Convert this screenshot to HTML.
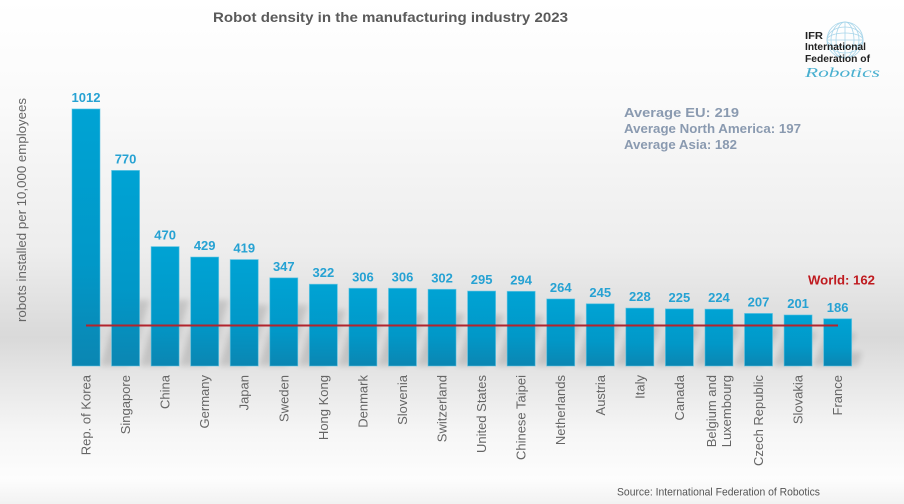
<!DOCTYPE html>
<html>
<head>
<meta charset="utf-8">
<style>
  html, body { margin: 0; padding: 0; }
  body { width: 904px; height: 504px; overflow: hidden; background: #fff; }
  svg { display: block; font-family: "Liberation Sans", Arial, sans-serif; }
</style>
</head>
<body>
<svg width="904" height="504" viewBox="0 0 904 504" xmlns="http://www.w3.org/2000/svg">
  <defs>
    <linearGradient id="bg" x1="0" y1="0" x2="0" y2="1">
      <stop offset="0" stop-color="#ffffff"/>
      <stop offset="0.2" stop-color="#fafafa"/>
      <stop offset="0.5" stop-color="#ededed"/>
      <stop offset="0.67" stop-color="#d9d9d9"/>
      <stop offset="0.73" stop-color="#e3e3e3"/>
      <stop offset="0.86" stop-color="#f6f6f6"/>
      <stop offset="0.95" stop-color="#fdfdfd"/>
      <stop offset="1" stop-color="#f2f2f2"/>
    </linearGradient>
    <linearGradient id="bar" x1="0" y1="0" x2="0" y2="1">
      <stop offset="0" stop-color="#00a3d4"/>
      <stop offset="0.6" stop-color="#0198c8"/>
      <stop offset="1" stop-color="#0b86b2"/>
    </linearGradient>
    <filter id="blur" x="-50%" y="-50%" width="200%" height="200%">
      <feGaussianBlur stdDeviation="3"/>
    </filter>
  </defs>

  <rect x="0" y="0" width="904" height="504" fill="url(#bg)"/>

  <!-- Title -->
  <text x="213" y="22" font-size="14" font-weight="bold" fill="#5a5a5a" textLength="355" lengthAdjust="spacingAndGlyphs">Robot density in the manufacturing industry 2023</text>

  <!-- IFR logo -->
  <g fill="none" stroke="#a9d6ea" stroke-width="0.8">
    <circle cx="845" cy="40" r="18"/>
    <ellipse cx="845" cy="40" rx="9" ry="18"/>
    <ellipse cx="845" cy="40" rx="14" ry="18"/>
    <line x1="845" y1="22" x2="845" y2="58"/>
    <line x1="827" y1="40" x2="863" y2="40"/>
    <ellipse cx="845" cy="40" rx="18" ry="7"/>
    <ellipse cx="845" cy="40" rx="18" ry="13"/>
  </g>
  <g font-size="10.5" font-weight="bold" fill="#222">
    <text x="805" y="39" textLength="18" lengthAdjust="spacingAndGlyphs">IFR</text>
    <text x="805" y="50" textLength="61" lengthAdjust="spacingAndGlyphs">International</text>
    <text x="805" y="62" textLength="65" lengthAdjust="spacingAndGlyphs">Federation of</text>
  </g>
  <text x="805" y="77" font-family="Liberation Serif, serif" font-style="italic" font-size="14" fill="#4ab0d0" textLength="75" lengthAdjust="spacingAndGlyphs">Robotics</text>

  <!-- Averages -->
  <g font-size="13" font-weight="bold" fill="#8a9ab0">
    <text x="624" y="117" textLength="115" lengthAdjust="spacingAndGlyphs">Average EU: 219</text>
    <text x="624" y="133" textLength="177" lengthAdjust="spacingAndGlyphs">Average North America: 197</text>
    <text x="624" y="149" textLength="113" lengthAdjust="spacingAndGlyphs">Average Asia: 182</text>
  </g>

  <!-- Y axis title -->
  <text transform="translate(26,210) rotate(-90)" text-anchor="middle" font-size="13" fill="#666" textLength="224" lengthAdjust="spacingAndGlyphs">robots installed per 10,000 employees</text>

  <!-- Shadows -->
  <g fill="#000" opacity="0.12" filter="url(#blur)">
    <polygon points="100,366 128,366 150,300 122,300"/>
    <polygon points="139.56,366 167.56,366 189.56,300 161.56,300"/>
    <polygon points="179.12,366 207.12,366 229.12,300 201.12,300"/>
    <polygon points="218.68,366 246.68,366 268.68,305 240.68,305"/>
    <polygon points="258.24,366 286.24,366 308.24,305 280.24,305"/>
    <polygon points="297.8,366 325.8,366 345.8,310 317.8,310"/>
    <polygon points="337.36,366 365.36,366 385.36,312 357.36,312"/>
    <polygon points="376.92,366 404.92,366 424.92,314 396.92,314"/>
    <polygon points="416.48,366 444.48,366 464.48,314 436.48,314"/>
    <polygon points="456.04,366 484.04,366 504.04,315 476.04,315"/>
    <polygon points="495.6,366 523.6,366 543.6,316 515.6,316"/>
    <polygon points="535.16,366 563.16,366 583.16,316 555.16,316"/>
    <polygon points="574.72,366 602.72,366 620.72,322 592.72,322"/>
    <polygon points="614.28,366 642.28,366 660.28,326 632.28,326"/>
    <polygon points="653.84,366 681.84,366 699.84,328 671.84,328"/>
    <polygon points="693.4,366 721.4,366 739.4,328 711.4,328"/>
    <polygon points="732.96,366 760.96,366 778.96,328 750.96,328"/>
    <polygon points="772.52,366 800.52,366 816.52,332 788.52,332"/>
    <polygon points="812.08,366 840.08,366 856.08,333 828.08,333"/>
    <polygon points="826,366 858,366 862,352 830,352"/>
  </g>

  <!-- Bars -->
  <g fill="url(#bar)" stroke="#5cc3e3" stroke-width="0.8" stroke-opacity="0.7">
    <rect x="72" y="108.95" width="28" height="257.05"/>
    <rect x="111.56" y="170.42" width="28" height="195.58"/>
    <rect x="151.12" y="246.62" width="28" height="119.38"/>
    <rect x="190.68" y="257.03" width="28" height="108.97"/>
    <rect x="230.24" y="259.57" width="28" height="106.43"/>
    <rect x="269.8" y="277.86" width="28" height="88.14"/>
    <rect x="309.36" y="284.21" width="28" height="81.79"/>
    <rect x="348.92" y="288.28" width="28" height="77.72"/>
    <rect x="388.48" y="288.28" width="28" height="77.72"/>
    <rect x="428.04" y="289.29" width="28" height="76.71"/>
    <rect x="467.6" y="291.07" width="28" height="74.93"/>
    <rect x="507.16" y="291.32" width="28" height="74.68"/>
    <rect x="546.72" y="298.94" width="28" height="67.06"/>
    <rect x="586.28" y="303.77" width="28" height="62.23"/>
    <rect x="625.84" y="308.09" width="28" height="57.91"/>
    <rect x="665.4" y="308.85" width="28" height="57.15"/>
    <rect x="704.96" y="309.1" width="28" height="56.9"/>
    <rect x="744.52" y="313.42" width="28" height="52.58"/>
    <rect x="784.08" y="314.95" width="28" height="51.05"/>
    <rect x="823.64" y="318.76" width="28" height="47.24"/>
  </g>

  <!-- World line -->
  <line x1="86" y1="325.5" x2="838" y2="325.5" stroke="#b3242c" stroke-width="2"/>
  <text x="808" y="284.7" font-size="13" font-weight="bold" fill="#bf1a1f" textLength="67" lengthAdjust="spacingAndGlyphs">World: 162</text>

  <!-- Value labels -->
  <g font-size="13" font-weight="bold" fill="#26a2d3" text-anchor="middle">
    <text x="86" y="102">1012</text>
    <text x="125.56" y="163.4">770</text>
    <text x="165.12" y="239.6">470</text>
    <text x="204.68" y="250">429</text>
    <text x="244.24" y="252.6">419</text>
    <text x="283.8" y="270.9">347</text>
    <text x="323.36" y="277.2">322</text>
    <text x="362.92" y="281.3">306</text>
    <text x="402.48" y="281.3">306</text>
    <text x="442.04" y="282.3">302</text>
    <text x="481.6" y="284.1">295</text>
    <text x="521.16" y="284.3">294</text>
    <text x="560.72" y="291.9">264</text>
    <text x="600.28" y="296.8">245</text>
    <text x="639.84" y="301.1">228</text>
    <text x="679.4" y="301.9">225</text>
    <text x="718.96" y="302.1">224</text>
    <text x="758.52" y="306.4">207</text>
    <text x="798.08" y="307.9">201</text>
    <text x="837.64" y="311.8">186</text>
  </g>

  <!-- Category labels -->
  <g font-size="13" fill="#666" text-anchor="end">
    <text transform="translate(90.5,375) rotate(-90)">Rep. of Korea</text>
    <text transform="translate(130.06,375) rotate(-90)">Singapore</text>
    <text transform="translate(169.62,375) rotate(-90)">China</text>
    <text transform="translate(209.18,375) rotate(-90)">Germany</text>
    <text transform="translate(248.74,375) rotate(-90)">Japan</text>
    <text transform="translate(288.3,375) rotate(-90)">Sweden</text>
    <text transform="translate(327.86,375) rotate(-90)">Hong Kong</text>
    <text transform="translate(367.42,375) rotate(-90)">Denmark</text>
    <text transform="translate(406.98,375) rotate(-90)">Slovenia</text>
    <text transform="translate(446.54,375) rotate(-90)">Switzerland</text>
    <text transform="translate(486.1,375) rotate(-90)">United States</text>
    <text transform="translate(525.66,375) rotate(-90)">Chinese Taipei</text>
    <text transform="translate(565.22,375) rotate(-90)">Netherlands</text>
    <text transform="translate(604.78,375) rotate(-90)">Austria</text>
    <text transform="translate(644.34,375) rotate(-90)">Italy</text>
    <text transform="translate(683.9,375) rotate(-90)">Canada</text>
    <text transform="translate(716.2,375) rotate(-90)">Belgium and</text>
    <text transform="translate(731.2,375) rotate(-90)">Luxembourg</text>
    <text transform="translate(763.02,375) rotate(-90)">Czech Republic</text>
    <text transform="translate(802.58,375) rotate(-90)">Slovakia</text>
    <text transform="translate(842.14,375) rotate(-90)">France</text>
  </g>

  <!-- Source -->
  <text x="617" y="495.5" font-size="11" fill="#555" textLength="203" lengthAdjust="spacingAndGlyphs">Source: International Federation of Robotics</text>
</svg>
</body>
</html>
